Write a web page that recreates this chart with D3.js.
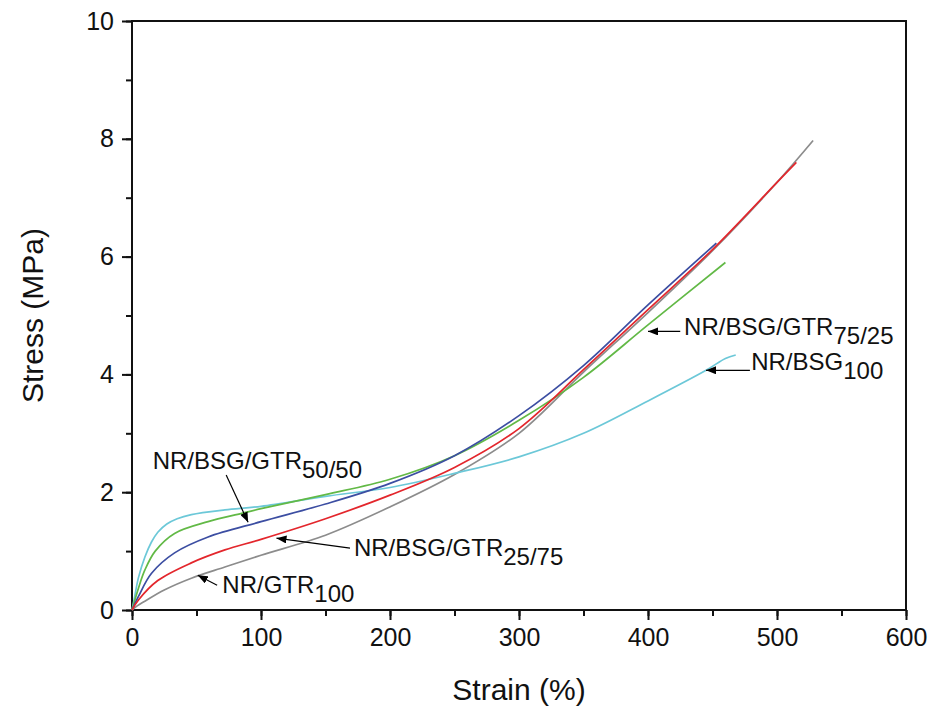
<!DOCTYPE html>
<html>
<head>
<meta charset="utf-8">
<script src="https://cdn.jsdelivr.net/npm/d3@7"></script>
<style>
  body { margin: 0; background: #fff; }
  svg { font-family: "Liberation Sans", Arial, sans-serif; }
</style>
</head>
<body>
<div id="chart"></div>
<script>
// stress-strain curves, [strain %, stress MPa]
const grayGTR100 = [[0,0],[4,0.07],[10,0.15],[25,0.34],[46,0.54],[72,0.73],[100,0.93],[150,1.27],[200,1.75],[250,2.3],[300,3.0],[350,4.04],[400,5.05],[450,6.1],[500,7.26],[528,7.97]];
const red2575 = [[0,0],[5,0.17],[20,0.5],[46,0.8],[72,1.02],[100,1.2],[150,1.55],[200,1.95],[250,2.42],[300,3.08],[350,4.08],[400,5.1],[450,6.12],[500,7.26],[515,7.6]];
const blue5050 = [[0,0],[5,0.23],[15,0.62],[33,0.97],[59,1.24],[100,1.5],[150,1.8],[200,2.15],[250,2.62],[300,3.3],[350,4.15],[400,5.18],[453,6.23]];
const green7525 = [[0,0],[5,0.37],[10,0.68],[18,1.0],[33,1.3],[59,1.5],[85,1.64],[100,1.72],[150,1.96],[200,2.22],[250,2.62],[300,3.22],[350,3.95],[400,4.84],[460,5.9]];
const cyanBSG100 = [[0,0],[2,0.22],[5,0.55],[10,0.9],[15,1.15],[20,1.32],[27,1.46],[35,1.55],[46,1.62],[72,1.7],[100,1.76],[150,1.93],[200,2.08],[250,2.32],[300,2.6],[350,3.0],[400,3.55],[445,4.07],[460,4.27],[468,4.33]];

const xTicks = [0, 100, 200, 300, 400, 500, 600];
const yTicks = [0, 2, 4, 6, 8, 10];

const series = [
  { data: grayGTR100, color: '#8c8c8c' },
  { data: cyanBSG100, color: '#6cc8d8' },
  { data: green7525, color: '#62b946' },
  { data: blue5050, color: '#3c4ea2' },
  { data: red2575, color: '#e3262c' }
];

// annotations: label, subscript, text position, arrow [from, to] in data units
const labels = [
  { main: 'NR/BSG/GTR', sub: '50/50', at: [16, 2.39], arrow: [[73, 2.29], [90, 1.49]] },
  { main: 'NR/BSG/GTR', sub: '25/75', at: [172, 0.92], arrow: [[169, 1.05], [112, 1.22]] },
  { main: 'NR/GTR', sub: '100', at: [70, 0.29], arrow: [[66, 0.42], [51, 0.59]] },
  { main: 'NR/BSG/GTR', sub: '75/25', at: [428, 4.67], arrow: [[425, 4.73], [400, 4.73]] },
  { main: 'NR/BSG', sub: '100', at: [480, 4.07], arrow: [[479, 4.07], [445, 4.07]] }
];

const outerWidth = 931;
const outerHeight = 711;
const margin = {top: 21, right: 25, bottom: 101, left: 132};
const width = outerWidth - margin.left - margin.right;
const height = outerHeight - margin.top - margin.bottom;

const svg = d3.select('#chart').append('svg')
  .attr('width', outerWidth)
  .attr('height', outerHeight);

svg.append('defs').append('marker')
  .attr('id', 'head')
  .attr('viewBox', '0 0 10 8')
  .attr('refX', 10)
  .attr('refY', 4)
  .attr('markerWidth', 10)
  .attr('markerHeight', 8)
  .attr('markerUnits', 'userSpaceOnUse')
  .attr('orient', 'auto')
  .append('path')
  .attr('d', 'M0,0 L10,4 L0,8 Z')
  .attr('fill', '#000');

const g = svg.append('g')
  .attr('transform', `translate(${margin.left}, ${margin.top})`);

const x = d3.scaleLinear().domain([0, 600]).range([0, width]);
const y = d3.scaleLinear().domain([0, 10]).range([height, 0]);

// minor ticks first, then major with labels
g.append('g')
  .attr('transform', `translate(0, ${height})`)
  .call(d3.axisBottom(x).ticks(12).tickSize(6).tickFormat(''))
  .call(a => a.select('.domain').remove());
g.append('g')
  .call(d3.axisLeft(y).ticks(10).tickSize(6).tickFormat(''))
  .call(a => a.select('.domain').remove());

const gx = g.append('g')
  .attr('transform', `translate(0, ${height})`)
  .call(d3.axisBottom(x).tickValues(xTicks).tickSize(10).tickPadding(8));
const gy = g.append('g')
  .call(d3.axisLeft(y).tickValues(yTicks).tickSize(10).tickPadding(8));

[gx, gy].forEach(a => {
  a.select('.domain').remove();
  a.selectAll('text').attr('font-size', 25).attr('fill', '#111').attr('font-family', '"Liberation Sans", Arial, sans-serif');
});
g.selectAll('.tick line').attr('stroke', '#111').attr('stroke-width', 2);

g.append('rect')
  .attr('width', width)
  .attr('height', height)
  .attr('fill', 'none')
  .attr('stroke', '#111')
  .attr('stroke-width', 2);

const line = d3.line()
  .x(d => x(d[0]))
  .y(d => y(d[1]))
  .curve(d3.curveCatmullRom.alpha(0.5));

g.selectAll('.curve')
  .data(series)
  .join('path')
  .attr('class', 'curve')
  .attr('d', d => line(d.data))
  .attr('fill', 'none')
  .attr('stroke', d => d.color)
  .attr('stroke-width', 1.7);

// annotations
labels.forEach(l => {
  g.append('line')
    .attr('x1', x(l.arrow[0][0])).attr('y1', y(l.arrow[0][1]))
    .attr('x2', x(l.arrow[1][0])).attr('y2', y(l.arrow[1][1]))
    .attr('stroke', '#000')
    .attr('stroke-width', 1.2)
    .attr('marker-end', 'url(#head)');
  const t = g.append('text')
    .attr('x', x(l.at[0]))
    .attr('y', y(l.at[1]))
    .attr('font-size', 24)
    .attr('fill', '#111');
  t.append('tspan').text(l.main);
  t.append('tspan').attr('dy', 9).text(l.sub);
});

svg.append('text')
  .attr('x', margin.left + width / 2)
  .attr('y', 700)
  .attr('text-anchor', 'middle')
  .attr('font-size', 30)
  .attr('fill', '#111')
  .text('Strain (%)');

svg.append('text')
  .attr('transform', `translate(43, ${margin.top + height / 2}) rotate(-90)`)
  .attr('text-anchor', 'middle')
  .attr('font-size', 30)
  .attr('fill', '#111')
  .text('Stress (MPa)');
</script>
</body>
</html>
